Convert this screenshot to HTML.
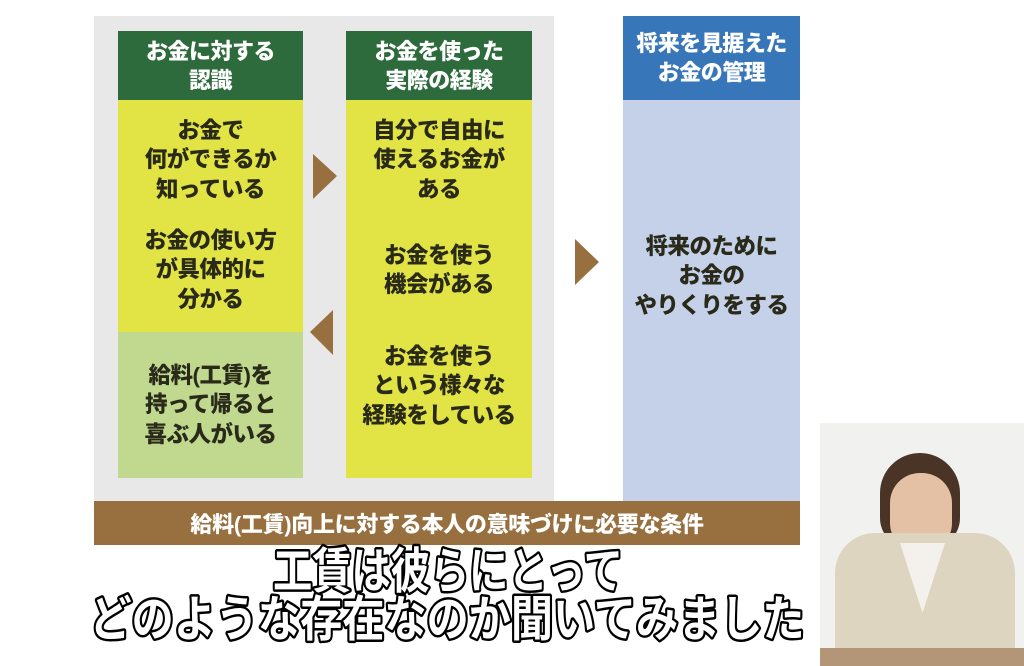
<!DOCTYPE html>
<html><head><meta charset="utf-8"><style>
body{margin:0;width:1024px;height:666px;background:#fff;position:relative;overflow:hidden;font-family:"Liberation Sans","Noto Sans CJK JP",sans-serif;font-weight:900}
.a{position:absolute}
.t{display:flex;align-items:center;justify-content:center;text-align:center;flex-direction:column;white-space:nowrap}
.hd{color:#fff;font-size:22px;line-height:29px;letter-spacing:-0.5px}
.bd{color:#2a2a1a;font-size:22.5px;line-height:29.5px;letter-spacing:-0.5px}
</style></head><body>
<div class="a" style="left:94px;top:16px;width:460px;height:485px;background:#e8e8e8"></div>
<div class="a t hd" style="left:118px;top:31px;width:185px;height:69px;background:#2e6b3c">お金に対する<br>認識</div>
<div class="a t hd" style="left:346px;top:31px;width:186px;height:69px;background:#2e6b3c">お金を使った<br>実際の経験</div>
<div class="a t hd" style="left:623px;top:16px;width:177px;height:84px;background:#3876ba">将来を見据えた<br>お金の管理</div>
<div class="a" style="left:118px;top:100px;width:185px;height:232px;background:#e2e446"></div>
<div class="a t bd" style="left:118px;top:112px;width:185px;height:96px">お金で<br>何ができるか<br>知っている</div>
<div class="a t bd" style="left:118px;top:222px;width:185px;height:96px">お金の使い方<br>が具体的に<br>分かる</div>
<div class="a t bd" style="left:118px;top:332px;width:185px;height:146px;background:#c0d98e">給料(工賃)を<br>持って帰ると<br>喜ぶ人がいる</div>
<div class="a" style="left:346px;top:100px;width:186px;height:378px;background:#e2e446"></div>
<div class="a t bd" style="left:346px;top:112px;width:186px;height:96px">自分で自由に<br>使えるお金が<br>ある</div>
<div class="a t bd" style="left:346px;top:237px;width:186px;height:66px">お金を使う<br>機会がある</div>
<div class="a t bd" style="left:346px;top:338px;width:186px;height:96px">お金を使う<br>という様々な<br>経験をしている</div>
<div class="a" style="left:623px;top:100px;width:177px;height:401px;background:#c5d1e9"></div>
<div class="a t bd" style="left:623px;top:228px;width:177px;height:96px">将来のために<br>お金の<br>やりくりをする</div>
<svg class="a" style="left:0;top:0" width="1024" height="666">
<polygon points="313,154 337,176 313,199" fill="#98703f"/>
<polygon points="333,310 310,332 333,355" fill="#98703f"/>
<polygon points="575,239 599,262 575,285" fill="#98703f"/>
</svg>
<div class="a t" style="left:94px;top:501px;width:706px;height:44px;background:#98703f;color:#fff;font-size:22px;letter-spacing:-0.3px">給料(工賃)向上に対する本人の意味づけに必要な条件</div>
<div class="a" style="left:820px;top:423px;width:204px;height:243px;background:#f1f1f0;overflow:hidden">
<div class="a" style="left:60px;top:30px;width:80px;height:95px;border-radius:40px 40px 30px 30px;background:#4a3426"></div>
<div class="a" style="left:70px;top:50px;width:62px;height:80px;border-radius:30px;background:#e4c0a4"></div>
<div class="a" style="left:15px;top:110px;width:180px;height:140px;border-radius:40px 40px 0 0;background:#ddd5c0"></div>
<div class="a" style="left:80px;top:120px;width:45px;height:70px;background:#f4f1ec;clip-path:polygon(0 0,100% 0,50% 100%)"></div>
<div class="a" style="left:0;top:225px;width:204px;height:20px;background:#b39577"></div>
</div>
<svg class="a" style="left:0;top:0" width="1024" height="666">
<g font-family="Liberation Sans,Noto Sans CJK JP,sans-serif" font-weight="bold" font-size="49" text-anchor="middle" fill="#fff" stroke="#000" stroke-width="5" paint-order="stroke" stroke-linejoin="round">
<text x="448" y="588" textLength="350" lengthAdjust="spacingAndGlyphs">工賃は彼らにとって</text>
<text x="447" y="636" textLength="715" lengthAdjust="spacingAndGlyphs">どのような存在なのか聞いてみました</text>
</g></svg>
</body></html>
